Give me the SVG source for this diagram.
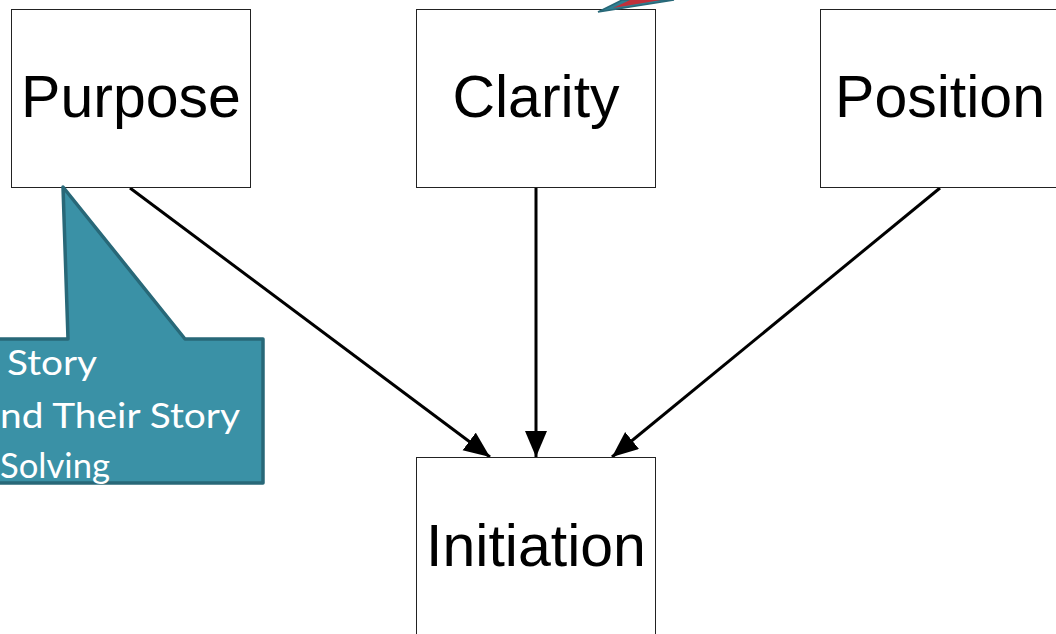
<svg xmlns="http://www.w3.org/2000/svg" width="1056" height="634" viewBox="0 0 1056 634">
<style>
.box{fill:#fff;stroke:#222;stroke-width:1}
.lbl{font-family:"Liberation Sans",Arial,sans-serif;font-size:59px;fill:#000;text-anchor:middle}
.edge{stroke:#000;stroke-width:3;fill:none}
.co{fill:#3A91A6;stroke:#286878;stroke-width:3.5;stroke-linejoin:round}
.cot{font-family:"Lato","Open Sans",sans-serif;font-size:35px;fill:#fff}
</style>
<defs>
<marker id="ah" markerUnits="userSpaceOnUse" markerWidth="30" markerHeight="24" refX="26" refY="11" orient="auto">
<path d="M0,0 L26,11 L0,22 Z" fill="#000"/>
</marker>
</defs>
<rect width="1056" height="634" fill="#fff"/>
<g id="connectors">
<line class="edge" x1="130" y1="188" x2="490" y2="457" marker-end="url(#ah)"/>
<line class="edge" x1="536" y1="188" x2="536" y2="457" marker-end="url(#ah)"/>
<line class="edge" x1="940" y1="188" x2="612" y2="457" marker-end="url(#ah)"/>
</g>
<g id="purpose"><rect class="box" x="11.5" y="9.5" width="239" height="178"/><text class="lbl" x="131" y="117">Purpose</text></g>
<g id="clarity"><rect class="box" x="416.5" y="9.5" width="239" height="178"/><text class="lbl" x="536" y="117">Clarity</text></g>
<g id="position"><rect class="box" x="820.5" y="9.5" width="240" height="178"/><text class="lbl" x="940" y="117">Position</text></g>
<g id="initiation"><rect class="box" x="416.5" y="457.5" width="239" height="190"/><text class="lbl" x="536" y="566">Initiation</text></g>
<g id="callout-top">
<polygon points="598,12 622,0 674,0" fill="#2E7F92" stroke="#286878" stroke-width="1.5"/>
<polygon points="613,8 630,0 661,0" fill="#C0303A"/>
</g>
<g id="callout-purpose">
<path class="co" d="M63,187 L185,339 L263,339 L263,483 L-10,483 L-10,339 L68,339 Z"/>
<text class="cot" x="7" y="375" textLength="90" lengthAdjust="spacingAndGlyphs">Story</text>
<text class="cot" x="0" y="428" textLength="240" lengthAdjust="spacingAndGlyphs">nd Their Story</text>
<text class="cot" x="0" y="478" textLength="110" lengthAdjust="spacingAndGlyphs">Solving</text>
</g>
</svg>
